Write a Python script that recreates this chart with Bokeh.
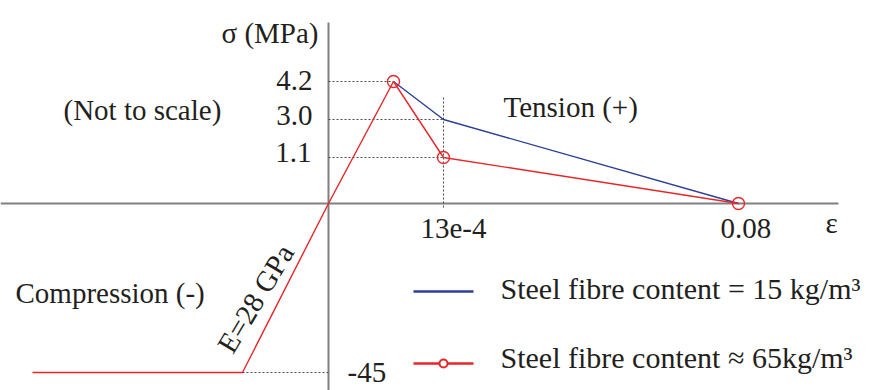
from bokeh.plotting import figure
from bokeh.models import Range1d
from bokeh.core.properties import value
from bokeh.embed import file_html
from bokeh.resources import INLINE

# ---- Data (schematic chart, "not to scale": positions are schematic units) ----
# key strains (schematic x) and stresses (schematic y)
strain_labels = ["13e-4", "0.08"]
strain_x = [115, 410]
stress_labels = ["4.2", "3.0", "1.1", "-45"]
stress_y = [122, 84, 46, -169]

# series 1: steel fibre content = 15 kg/m3
s15_x = [65, 115, 410]
s15_y = [122, 84, 0]
# series 2: steel fibre content ~ 65 kg/m3 (incl. compression branch)
s65_x = [-296, -86, 0, 65, 115, 410]
s65_y = [-169, -169, 0, 122, 46, 0]
s65_mx = [65, 115, 410]
s65_my = [122, 46, 0]

RED = "#e8262a"
BLUE = "#2b3f96"
GREY = "#808080"
DASH = "#4a4a4a"
TXT = "#231f20"
FONT = value("Liberation Serif")

p = figure(width=885, height=390, output_backend="svg", toolbar_location=None,
           x_range=Range1d(-328, 557), y_range=Range1d(-187, 203),
           x_axis_type=None, y_axis_type=None, min_border=0)
p.outline_line_color = None
p.grid.visible = False
p.background_fill_color = "white"
p.border_fill_color = "white"

# axes
p.line([-328, 510], [0, 0], line_color=GREY, line_width=2)
p.line([0, 0], [181, -190], line_color=GREY, line_width=2)

# dashed reference lines
p.line([0, s15_x[0]], [stress_y[0]] * 2, line_color=DASH, line_width=1, line_dash="2 2")
p.line([0, strain_x[0]], [stress_y[1]] * 2, line_color=DASH, line_width=1, line_dash="2 2")
p.line([0, strain_x[0]], [stress_y[2]] * 2, line_color=DASH, line_width=1, line_dash="2 2")
p.line([strain_x[0]] * 2, [106, -6], line_color=DASH, line_width=1, line_dash="2 2")
p.line([s65_x[1], 0], [stress_y[3]] * 2, line_color=DASH, line_width=1, line_dash="2 2")

# series
p.line(s15_x, s15_y, line_color=BLUE, line_width=1.4)
p.line(s65_x, s65_y, line_color=RED, line_width=1.4)
p.scatter(s65_mx, s65_my, marker="circle", size=12, fill_color=None,
          line_color=RED, line_width=1.4)

OFF = 10  # baseline correction

def txt(x, y, t, align="left", baseline="alphabetic", angle=0.0, size="29px"):
    yy = y + OFF if baseline == "alphabetic" else y
    p.text(x=[x], y=[yy], text=[t], text_font=FONT, text_font_size=value(size),
           text_color=TXT, text_align=align, text_baseline=baseline, angle=angle)

# stress tick labels
txt(-10, 161, "σ (MPa)", align="right")
txt(-16, stress_y[0] - 9, stress_labels[0], align="right")
txt(-16, stress_y[1] - 6, stress_labels[1], align="right")
txt(-17, stress_y[2] - 5, stress_labels[2], align="right")
txt(19, stress_y[3] - 10, stress_labels[3])
# strain tick labels
txt(strain_x[0] - 23, -35, strain_labels[0])
txt(strain_x[1] - 18, -35, strain_labels[1])
txt(497, -29, "ε")

# annotations
txt(-265, 84, "(Not to scale)")
txt(175, 87, "Tension (+)")
txt(-313, -99, "Compression (-)")
txt(-73, -95, "E=28 GPa", align="center", baseline="middle", angle=1.03)

# manual legend
p.line([85, 145], [-88, -88], line_color=BLUE, line_width=2.5)
txt(172, -95, "Steel fibre content = 15 kg/m³", size="30px")
p.line([85, 145], [-160, -160], line_color=RED, line_width=2.5)
p.scatter([115], [-160], marker="circle", size=8, fill_color="white",
          line_color=RED, line_width=2)
txt(172, -164, "Steel fibre content ≈ 65kg/m³", size="30px")

open("out.html", "w").write(file_html(p, INLINE))
